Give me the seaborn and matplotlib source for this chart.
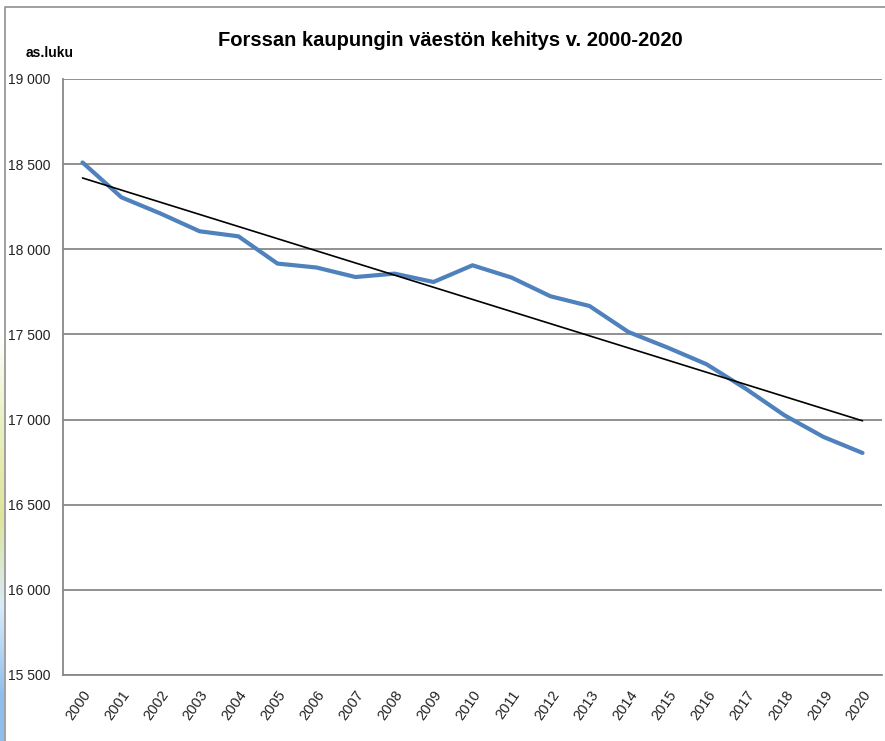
import numpy as np
import pandas as pd
import matplotlib
matplotlib.use("Agg")
import matplotlib.pyplot as plt
import seaborn as sns
from matplotlib.lines import Line2D

years = [str(y) for y in range(2000, 2021)]
population = [18510, 18305, 18210, 18106, 18076, 17916, 17893, 17837, 17857, 17808,
              17906, 17834, 17724, 17667, 17514, 17423, 17325, 17182, 17025, 16898, 16804]
y_ticks = [15500, 16000, 16500, 17000, 17500, 18000, 18500, 19000]
title = "Forssan kaupungin väestön kehitys v. 2000-2020"
y_label = "as.luku"

sns.set_style("white")
FONT = ["Liberation Sans", "DejaVu Sans"]
plt.rcParams["font.family"] = FONT

df = pd.DataFrame({"idx": np.arange(len(years)), "year": years, "pop": population})
coef = np.polyfit(df["idx"], df["pop"], 1)
df["trend"] = np.polyval(coef, df["idx"])

fig = plt.figure(figsize=(8.85, 7.41), dpi=100)
ax = fig.add_axes([63/885, 1-675/741, (882-63)/885, (675-79)/741])

sns.lineplot(data=df, x="idx", y="pop", ax=ax, color="#4F81BD", linewidth=3.0, zorder=3)
sns.lineplot(data=df, x="idx", y="trend", ax=ax, color="black", linewidth=1.2, zorder=4)

ax.set_xlim(-0.5, len(years) - 0.5)
ax.set_ylim(y_ticks[0], y_ticks[-1])
ax.set_yticks(y_ticks)
ax.set_yticklabels([f"{v:,}".replace(",", " ") for v in y_ticks], fontsize=10, color="#222222")
ax.set_xticks(np.arange(len(years)))
ax.set_xticklabels(years, rotation=55, ha="right", va="top", rotation_mode="anchor",
                   fontsize=10.5, color="#222222")
ax.set_xticks(np.arange(len(years) + 1) - 0.5, minor=True)
ax.tick_params(axis="x", which="major", length=0, pad=9)
ax.tick_params(axis="x", which="minor", length=5, width=1.2, color="#888888", direction="out")
ax.tick_params(axis="y", length=5, width=1.2, color="#888888", direction="out", pad=4)
ax.yaxis.grid(True, color="#888888", linewidth=1.3)
ax.xaxis.grid(False)
ax.set_xlabel("")
ax.set_ylabel("")
for s in ["top", "right"]:
    ax.spines[s].set_visible(False)
for s in ["left", "bottom"]:
    ax.spines[s].set_color("#888888")
    ax.spines[s].set_linewidth(1.3)

fig.text(450/885, 1-41/741, title, ha="center", va="center", fontsize=14.5,
         fontweight="bold", color="black")
fig.text(26/885, 1-53/741, y_label, ha="left", va="center", fontsize=10,
         fontweight="bold", color="black")

# outer frame (top and left edges only visible)
fig.lines.append(Line2D([5/885, 5/885, 1], [0, 1-7/741, 1-7/741], transform=fig.transFigure,
                        color="#999999", linewidth=1.3))
# left decorative gradient strip
gax = fig.add_axes([0, 0, 4/885, 1-290/741])
grad = np.array([[0.55, 0.75, 0.93], [0.85, 0.92, 0.98], [0.87, 0.90, 0.60],
                 [0.92, 0.94, 0.75], [1.0, 1.0, 1.0]])
gax.imshow(grad.reshape(-1, 1, 3), aspect="auto", origin="lower", interpolation="bilinear")
gax.axis("off")

fig.savefig("out.png", dpi=100)
